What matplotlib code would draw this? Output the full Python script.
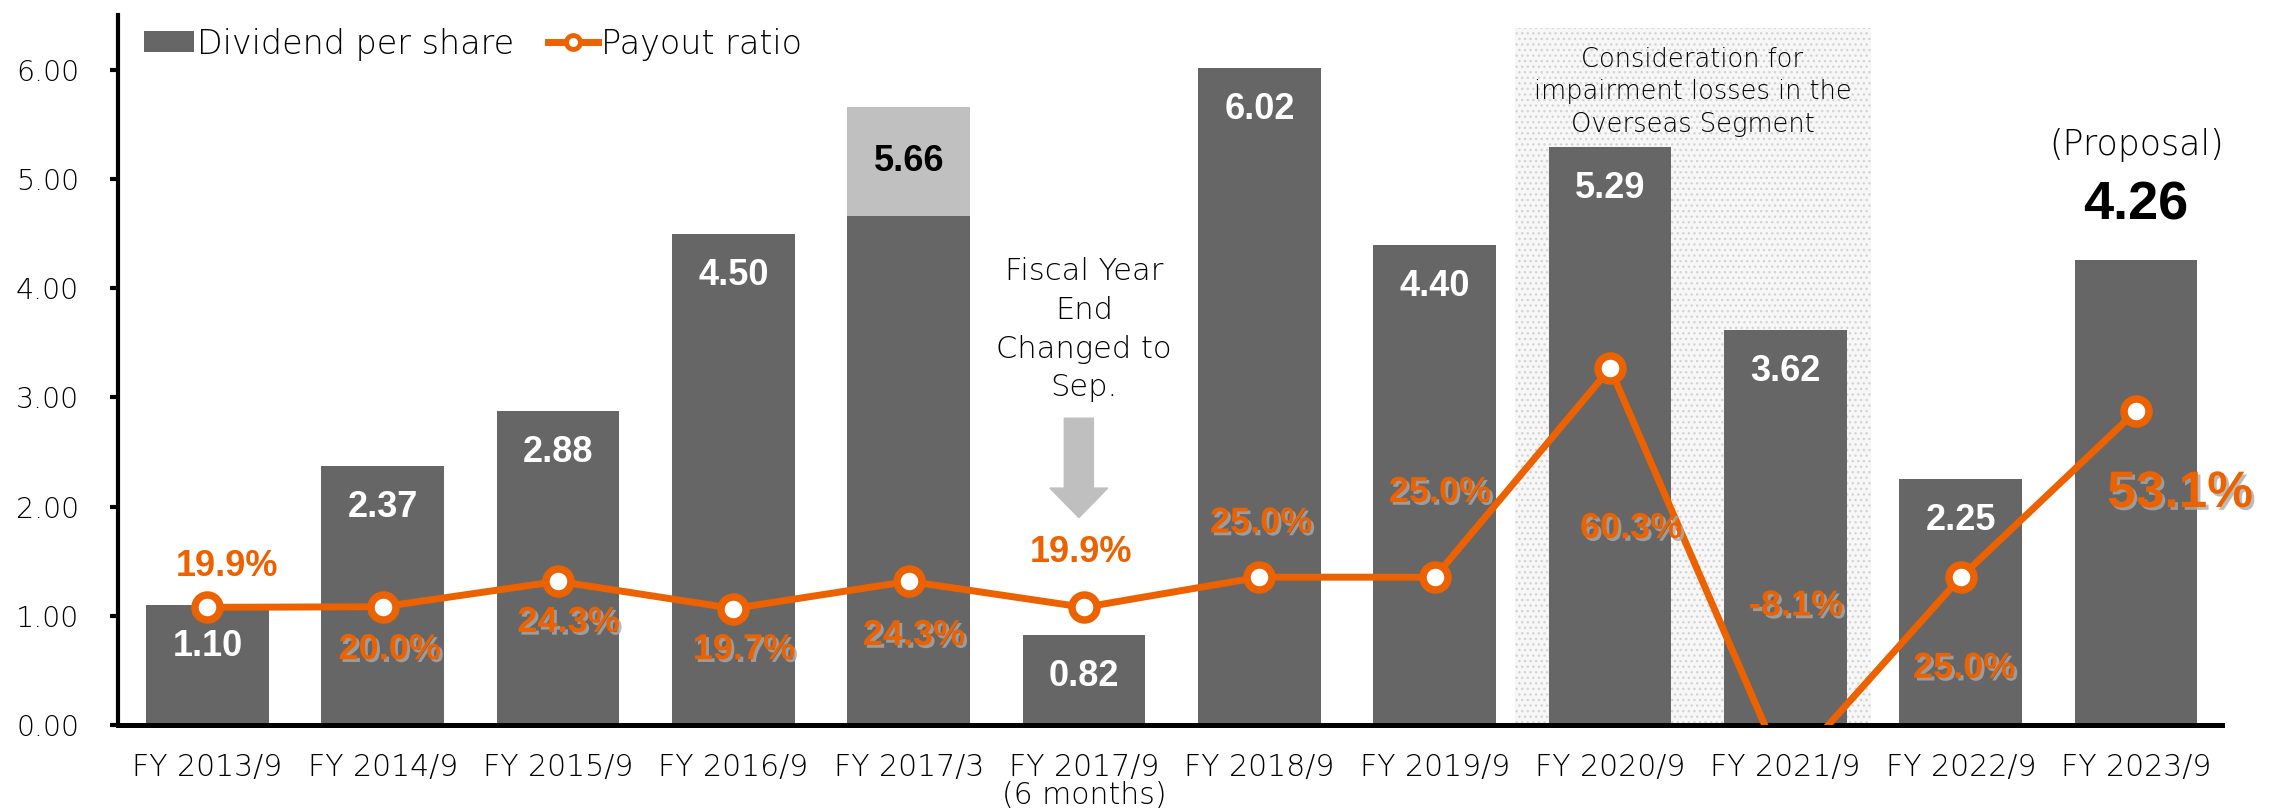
import matplotlib
matplotlib.use("Agg")
import matplotlib.pyplot as plt
import matplotlib.patheffects as pe
from matplotlib.patches import Rectangle, FancyArrow, Patch
from matplotlib.lines import Line2D

# ---------------- data ----------------
categories = ["FY 2013/9", "FY 2014/9", "FY 2015/9", "FY 2016/9", "FY 2017/3",
              "FY 2017/9\n(6 months)", "FY 2018/9", "FY 2019/9", "FY 2020/9",
              "FY 2021/9", "FY 2022/9", "FY 2023/9"]
dividend_total = [1.10, 2.37, 2.88, 4.50, 5.66, 0.82, 6.02, 4.40, 5.29, 3.62, 2.25, 4.26]
dividend_base = [1.10, 2.37, 2.88, 4.50, 4.66, 0.82, 6.02, 4.40, 5.29, 3.62, 2.25, 4.26]
dividend_extra = [0, 0, 0, 0, 1.00, 0, 0, 0, 0, 0, 0, 0]
payout_ratio = [19.9, 20.0, 24.3, 19.7, 24.3, 19.9, 25.0, 25.0, 60.3, -8.1, 25.0, 53.1]
yticks = [0, 1, 2, 3, 4, 5, 6]

# ---------------- layout / style ----------------
ORANGE = "#EC6100"
BAR = "#666666"
LIGHT = "#C0C0C0"
THIN = "DejaVu Sans"
THINW = "light"
BOLD = "Liberation Sans"

pct_label_y = [1.45, 0.69, 0.94, 0.69, 0.82, 1.58, 1.85, 2.13, 1.80, 1.09, 0.52, 2.12]
pct_label_dx = [0.11, 0.04, 0.06, 0.06, 0.03, -0.02, 0.01, 0.03, 0.12, 0.06, 0.02, 0.25]
pct_shadow = [False, True, True, True, True, False, True, True, True, True, True, True]

plt.rcParams['hatch.linewidth'] = 1.0
fig = plt.figure(figsize=(22.83, 8.08), dpi=100)
ax = fig.add_axes([0.0517, 0.1027, 0.9216, 0.8783])
ax2 = ax.twinx()

x = list(range(len(categories)))

# shaded region behind FY2020/9 - FY2021/9
ax.add_patch(Rectangle((7.46, 0), 2.03, 6.38, facecolor="#f7f7f7", edgecolor="#d4d4d4",
                       hatch="...", linewidth=0, zorder=0))

ax.bar(x, dividend_base, width=0.70, color=BAR, zorder=2)
ax.bar(x, dividend_extra, bottom=dividend_base, width=0.70, color=LIGHT, zorder=2)

ax.set_xlim(-0.51, 11.49)
ax.set_ylim(0, 6.5)
ax.set_yticks(yticks)
ax.set_yticklabels([f"{v:.2f}" for v in yticks], fontsize=20.5, family=THIN,
                   fontweight=THINW, color="black")
ax.set_xticks(x)
ax.set_xticklabels(categories, fontsize=21.5, family=THIN, fontweight=THINW,
                   linespacing=0.95, color="black")
ax.tick_params(axis="x", length=0, pad=20)
ax.tick_params(axis="y", length=6, width=3, direction="out", pad=22)
for s in ["top", "right"]:
    ax.spines[s].set_visible(False)
ax.spines["left"].set_linewidth(3)
ax.spines["bottom"].set_linewidth(3.6)
ax.spines["bottom"].set_zorder(5)

# payout ratio line on secondary axis
ax2.set_ylim(0, 120)
ax2.plot(x, payout_ratio, color=ORANGE, lw=5, marker="o", ms=18, mfc="white",
         mec=ORANGE, mew=5.4, zorder=3)
ax2.set_yticks([])
for s in ax2.spines.values():
    s.set_visible(False)

T = ax.transData

# bar value labels
for i, v in enumerate(dividend_total):
    if i == 4:
        ax2.text(i, v - 0.50, f"{v:.2f}", transform=T, ha="center", va="center",
                 fontsize=26, family=BOLD, fontweight="bold", color="black", zorder=6)
    elif i == 11:
        ax2.text(i, v + 0.50, f"{v:.2f}", transform=T, ha="center", va="center",
                 fontsize=39, family=BOLD, fontweight="bold", color="black", zorder=6)
        ax2.text(i, v + 1.05, "(Proposal)", transform=T, ha="center", va="center",
                 fontsize=25, family=THIN, fontweight=THINW, color="black", zorder=6)
    else:
        ax2.text(i, v - 0.38, f"{v:.2f}", transform=T, ha="center", va="center",
                 fontsize=26, family=BOLD, fontweight="bold", color="white", zorder=6)

# payout labels
shadow = [pe.withSimplePatchShadow(offset=(2, -2), shadow_rgbFace="#aaaaaa", alpha=0.8)]
for i, v in enumerate(payout_ratio):
    size = 37 if i == 11 else 26
    ax2.text(i + pct_label_dx[i], pct_label_y[i], f"{v:.1f}%", transform=T,
             ha="center", va="center", fontsize=size, family=BOLD, fontweight="bold",
             color=ORANGE, zorder=7,
             path_effects=shadow if pct_shadow[i] else None)

# fiscal-year-change note and arrow
ax2.text(5, 3.62, "Fiscal Year\nEnd\nChanged to\nSep.", transform=T, ha="center",
         va="center", fontsize=22, family=THIN, fontweight=THINW, linespacing=1.42,
         color="black", zorder=6)
ax2.add_patch(FancyArrow(4.97, 2.81, 0, -0.91, width=0.166, head_width=0.33,
                         head_length=0.27, length_includes_head=True,
                         color="#BFBFBF", transform=T, zorder=6))

# impairment note
ax2.text(8.47, 5.80, "Consideration for\nimpairment losses in the\nOverseas Segment",
         transform=T, ha="center", va="center", fontsize=18.5, family=THIN,
         fontweight=THINW, linespacing=1.38, color="black", zorder=6)

# legend
handles = [Patch(facecolor=BAR, edgecolor="none"),
           Line2D([0], [0], color=ORANGE, lw=5, marker="o", ms=10, mfc="white",
                  mec=ORANGE, mew=3.5)]
leg = ax2.legend(handles, ["Dividend per share", "Payout ratio"], loc="upper left",
                 bbox_to_anchor=(-0.002, 1.025), ncol=2, frameon=False,
                 prop={"family": THIN, "weight": THINW, "size": 24},
                 handlelength=1.5, handleheight=0.6, handletextpad=0.1, columnspacing=1.0)
leg.set_zorder(8)

fig.savefig("out.png", dpi=100)
